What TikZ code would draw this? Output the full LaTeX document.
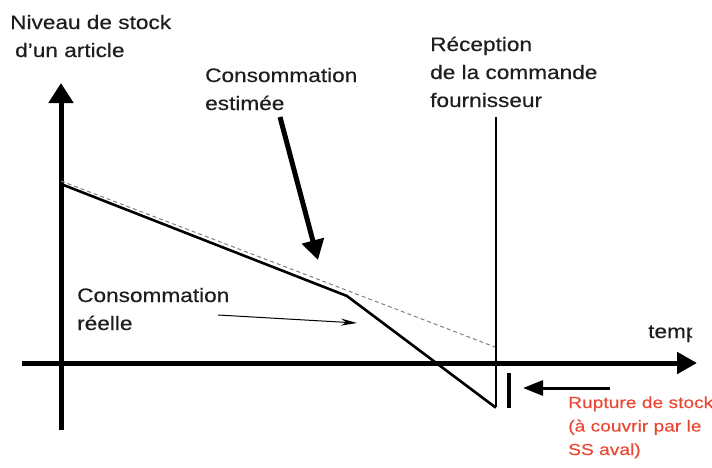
\documentclass[tikz,border=0pt]{standalone}
\usepackage{fontspec}
\setmainfont{Liberation Sans}[FakeStretch=1.16,FakeBold=0.4]
\newfontfamily\redfont{Liberation Sans}[FakeStretch=1.2,FakeBold=0.3]
\usetikzlibrary{arrows.meta}
\definecolor{rupt}{RGB}{232,72,52}
\definecolor{txt}{RGB}{30,30,30}
\begin{document}
\begin{tikzpicture}[x=1pt,y=-1pt,
  lbl/.style={anchor=base west,inner sep=0pt,align=left,text=txt,
    font=\fontsize{19.5}{28}\selectfont},
  redlbl/.style={anchor=base west,inner sep=0pt,align=left,text=rupt,
    font=\redfont\fontsize{16}{23.5}\selectfont},
  axis/.style={line width=5pt,-{Triangle[length=20pt,width=24pt]}},
  curve/.style={line width=2.6pt,line join=miter},
  estim/.style={line width=1pt,gray,dash pattern=on 4pt off 3pt},
]
\useasboundingbox (0,0) rectangle (712,467);
% coordinates
\coordinate (yb) at (61,430);
\coordinate (yt) at (61,83);
\coordinate (xl) at (22,363);
\coordinate (xr) at (697,363);
\coordinate (s0) at (61,184);
\coordinate (s1) at (347,296);
\coordinate (s2) at (495,407);
\coordinate (rtop) at (496,117);
\coordinate (rbot) at (496,407);
\coordinate (d0) at (61,181);
\coordinate (d1) at (495,347);
\coordinate (ea) at (280,117);
\coordinate (eb) at (318,260);
\coordinate (ra) at (218,315);
\coordinate (rb) at (357,323);
\coordinate (bt) at (509,373);
\coordinate (bb) at (509,408);
\coordinate (la) at (610,388);
\coordinate (lb) at (523,388);
% axes
\draw[axis] (yb) -- (yt);
\draw[axis,-{Triangle[length=20pt,width=21pt]}] (xl) -- (xr);
% estimated consumption (dashed)
\draw[estim] (d0) -- (d1);
% actual consumption
\draw[curve] (s0) -- (s1) -- (s2) -- (rbot);
% reception line
\draw[line width=2.4pt] (rbot) -- (rtop);
% arrows
\draw[line width=5pt,-{Triangle[length=20pt,width=22pt]}] (ea) -- (eb);
\draw[line width=1pt,-{Stealth[length=16pt,width=7pt]}] (ra) -- (rb);
\draw[line width=4pt] (bt) -- (bb);
\draw[line width=3pt,-{Triangle[length=20pt,width=15pt]}] (la) -- (lb);
% labels (anchor = baseline of last line)
\node[lbl] (niv) at (10,57) {Niveau de stock\\\hspace*{5pt}d'un article};
\node[lbl] (est) at (205,110) {Consommation\\estimée};
\node[lbl] (rec) at (430,107) {Réception\\de la commande\\fournisseur};
\node[lbl] (reel) at (77,330) {Consommation\\réelle};
\begin{scope}
\clip (600,300) rectangle (692,350);
\node[lbl] (temps) at (648,338) {temps};
\end{scope}
\node[redlbl] (rup) at (568,455) {Rupture de stock\\(à couvrir par le\\SS aval)};
\end{tikzpicture}
\end{document}
